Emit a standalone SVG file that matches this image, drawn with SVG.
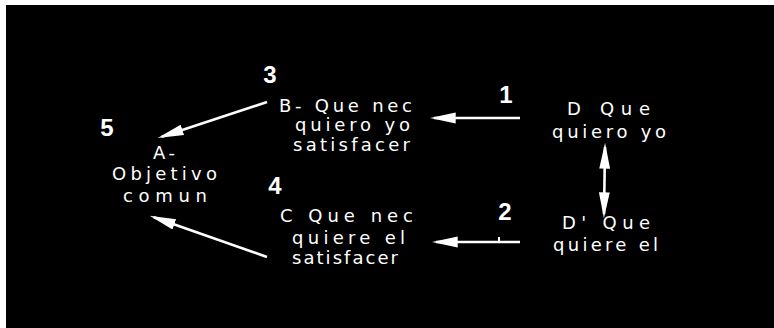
<svg xmlns="http://www.w3.org/2000/svg" width="774" height="328" viewBox="0 0 774 328">
<style>
.t{font-family:"DejaVu Sans","Liberation Sans",Arial,sans-serif;font-size:18px;fill:#fff}
.n{font-family:"Liberation Sans",Arial,sans-serif;font-size:24px;font-weight:bold;fill:#fff;text-anchor:middle}
.c{stroke:#fff;stroke-width:2.6;fill:none}
</style>
<defs>
<marker id="ah" markerUnits="userSpaceOnUse" markerWidth="26" markerHeight="12" viewBox="0 0 24 10" refX="20" refY="5" orient="auto-start-reverse">
<path d="M0,0 L24,5 L0,10 z" fill="#fff"/>
</marker>
</defs>
<rect x="0" y="0" width="774" height="328" fill="#fff"/>
<rect x="6" y="5" width="768" height="323" fill="#000"/>
<g id="connectors">
<line class="c" x1="267" y1="102" x2="161.8" y2="136.7" marker-end="url(#ah)"/>
<line class="c" x1="267" y1="257" x2="153.8" y2="217.3" marker-end="url(#ah)"/>
<line class="c" x1="520" y1="118" x2="434" y2="118" marker-end="url(#ah)"/>
<line class="c" x1="520" y1="242" x2="436" y2="242" marker-end="url(#ah)"/>
<line stroke="#fff" stroke-width="2" x1="499" y1="237" x2="499" y2="242"/>
<line class="c" x1="605" y1="147" x2="604" y2="214" marker-start="url(#ah)" marker-end="url(#ah)"/>
</g>
<g id="labels">
<text class="n" x="107" y="136">5</text>
<text class="n" x="270" y="83">3</text>
<text class="n" x="506" y="103">1</text>
<text class="n" x="275" y="194">4</text>
<text class="n" x="505" y="220">2</text>
</g>
<g id="node-A">
<text class="t" x="153" y="159" textLength="22">A-</text>
<text class="t" x="112" y="180" textLength="105">Objetivo</text>
<text class="t" x="123" y="202" textLength="84">comun</text>
</g>
<g id="node-B">
<text class="t" x="279" y="112" textLength="133">B- Que nec</text>
<text class="t" x="295" y="131" textLength="115">quiero yo</text>
<text class="t" x="293" y="151" textLength="117">satisfacer</text>
</g>
<g id="node-C">
<text class="t" x="280" y="222" textLength="133">C  Que nec</text>
<text class="t" x="292" y="244" textLength="113">quiere el</text>
<text class="t" x="292" y="264" textLength="106">satisfacer</text>
</g>
<g id="node-D">
<text class="t" x="567" y="115" textLength="83">D  Que</text>
<text class="t" x="552" y="138" textLength="114">quiero yo</text>
</g>
<g id="node-D2">
<text class="t" x="562" y="229" textLength="88">D'  Que</text>
<text class="t" x="553" y="251" textLength="105">quiere el</text>
</g>
</svg>
